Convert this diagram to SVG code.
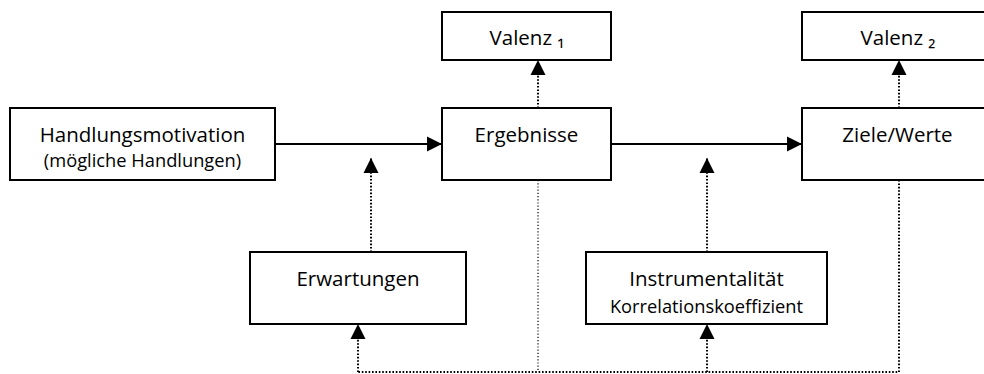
<svg xmlns="http://www.w3.org/2000/svg" width="984" height="374" viewBox="0 0 984 374">
<style>
.box{fill:#fff;stroke:#000;stroke-width:2}
.t{font-family:"Open Sans","Noto Sans","DejaVu Sans",sans-serif;font-size:20.5px;fill:#000;text-anchor:middle}
.s{font-size:18.3px}
.solid{stroke:#000;stroke-width:2;fill:none}
.dot{stroke:#000;stroke-width:2;stroke-dasharray:1.6 1.8;fill:none}
.thin{stroke:#000;stroke-width:1.2;stroke-dasharray:1.2 2;fill:none}
</style>
<defs>
<marker id="ah" markerUnits="userSpaceOnUse" markerWidth="16" markerHeight="16" viewBox="0 0 16 16" refX="15" refY="8" orient="auto">
<path d="M0,0.5 L15,8 L0,15.5 Z" fill="#000"/>
</marker>
</defs>
<g id="connectors">
<line class="solid" x1="275" y1="144" x2="442" y2="144" marker-end="url(#ah)"/>
<line class="solid" x1="611" y1="144" x2="802" y2="144" marker-end="url(#ah)"/>
<line class="dot" x1="538" y1="108" x2="538" y2="60" marker-end="url(#ah)"/>
<line class="dot" x1="899" y1="108" x2="899" y2="60" marker-end="url(#ah)"/>
<line class="dot" x1="371" y1="252" x2="371" y2="158" marker-end="url(#ah)"/>
<line class="dot" x1="707" y1="252" x2="707" y2="158" marker-end="url(#ah)"/>
<line class="thin" x1="538" y1="180" x2="538" y2="372"/>
<polyline class="dot" points="899,180 899,372 358,372"/>
<line class="dot" x1="358" y1="372" x2="358" y2="324" marker-end="url(#ah)"/>
<line class="dot" x1="707" y1="372" x2="707" y2="324" marker-end="url(#ah)"/>
</g>
<g id="handlungsmotivation">
<rect class="box" x="10" y="108" width="265" height="72"/>
<text class="t" x="142.5" y="142">Handlungsmotivation</text>
<text class="t s" x="142.5" y="167">(mögliche Handlungen)</text>
</g>
<g id="valenz1">
<rect class="box" x="442" y="12" width="169" height="48"/>
<text class="t" x="527" y="45">Valenz ₁</text>
</g>
<g id="ergebnisse">
<rect class="box" x="442" y="108" width="169" height="72"/>
<text class="t" x="526.5" y="142">Ergebnisse</text>
</g>
<g id="valenz2">
<rect class="box" x="802" y="12" width="194" height="48"/>
<text class="t" x="898" y="45">Valenz ₂</text>
</g>
<g id="ziele">
<rect class="box" x="802" y="108" width="194" height="72"/>
<text class="t" x="897.5" y="142">Ziele/Werte</text>
</g>
<g id="erwartungen">
<rect class="box" x="250" y="252" width="216" height="72"/>
<text class="t" x="358" y="286">Erwartungen</text>
</g>
<g id="instrumentalitaet">
<rect class="box" x="586" y="252" width="241" height="72"/>
<text class="t" x="706.5" y="286">Instrumentalität</text>
<text class="t s" x="706.5" y="313">Korrelationskoeffizient</text>
</g>
</svg>
